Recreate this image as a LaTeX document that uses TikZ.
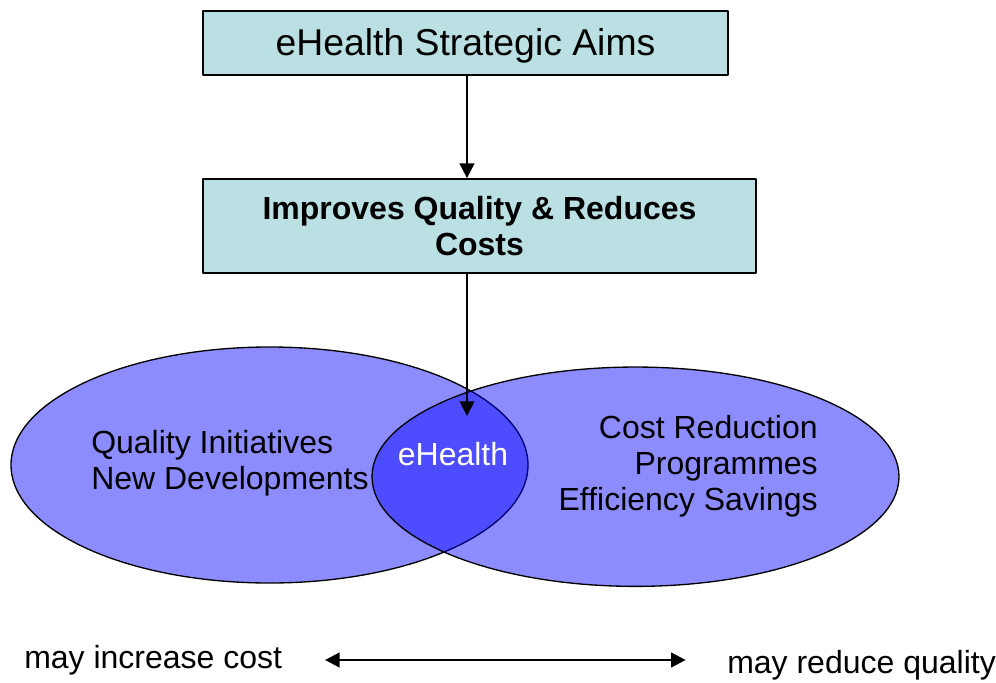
\documentclass[tikz,border=0pt]{standalone}
\usepackage{fontspec}
\setmainfont{Liberation Sans}
\usetikzlibrary{arrows.meta,shapes.geometric}

\definecolor{boxteal}{RGB}{187,224,227}

\tikzset{
  aimbox/.style={draw=black, line width=1.3pt, fill=boxteal, inner sep=0pt},
  venn/.style={ellipse, draw=black, line width=1pt, fill=blue, fill opacity=0.45,
    text opacity=1, inner sep=0pt},
  arr/.style={line width=1.4pt, -{Triangle[length=11pt,width=11pt]}},
  dblarr/.style={line width=2pt, {Triangle[length=11pt,width=11pt]}-{Triangle[length=11pt,width=11pt]}},
  big/.style={font=\fontsize{28}{32}\selectfont},
  std/.style={font=\fontsize{24}{27}\selectfont, inner sep=0pt}
}

\begin{document}
\begin{tikzpicture}[x=0.75pt, y=-0.75pt, line cap=round, line join=round]
  \useasboundingbox (0,0) rectangle (996,682);

  % boxes at the top
  \node[aimbox, big, minimum width=393.75pt, minimum height=48pt, text depth=2pt] (aims)
    at (465.5,43) {eHealth Strategic Aims};
  \node[aimbox, std, align=center, minimum width=414.75pt, minimum height=70.5pt] (improve)
    at (479.5,226) {\bfseries Improves Quality \& Reduces\\\bfseries Costs};

  % the two overlapping sets
  \node[venn, minimum width=387.75pt, minimum height=177pt] (quality) at (269.5,465) {};
  \node[venn, minimum width=395.25pt, minimum height=164.5pt] (cost) at (635.5,476.7) {};

  \node[std, align=left, anchor=west] (qtext) at (91,463)
    {Quality Initiatives\\New Developments};
  \node[std, align=right, anchor=east] (ctext) at (818,466)
    {Cost Reduction\\Programmes\\Efficiency Savings};
  \node[std, text=white] (ehealth) at (453,454) {eHealth};

  \coordinate (tip) at (467,416);
  \draw[arr] (aims.south -| tip) -- (improve.north -| tip);
  \draw[arr] (improve.south -| tip) -- (tip);

  % trade-off line at the bottom
  \node[std, anchor=west] (incr) at (24,660) {may increase cost};
  \node[std, anchor=west] (reduce) at (727,665) {may reduce quality};
  \draw[dblarr, shorten <=32pt, shorten >=31pt] (incr.east) -- (incr.east -| reduce.west);
\end{tikzpicture}
\end{document}
